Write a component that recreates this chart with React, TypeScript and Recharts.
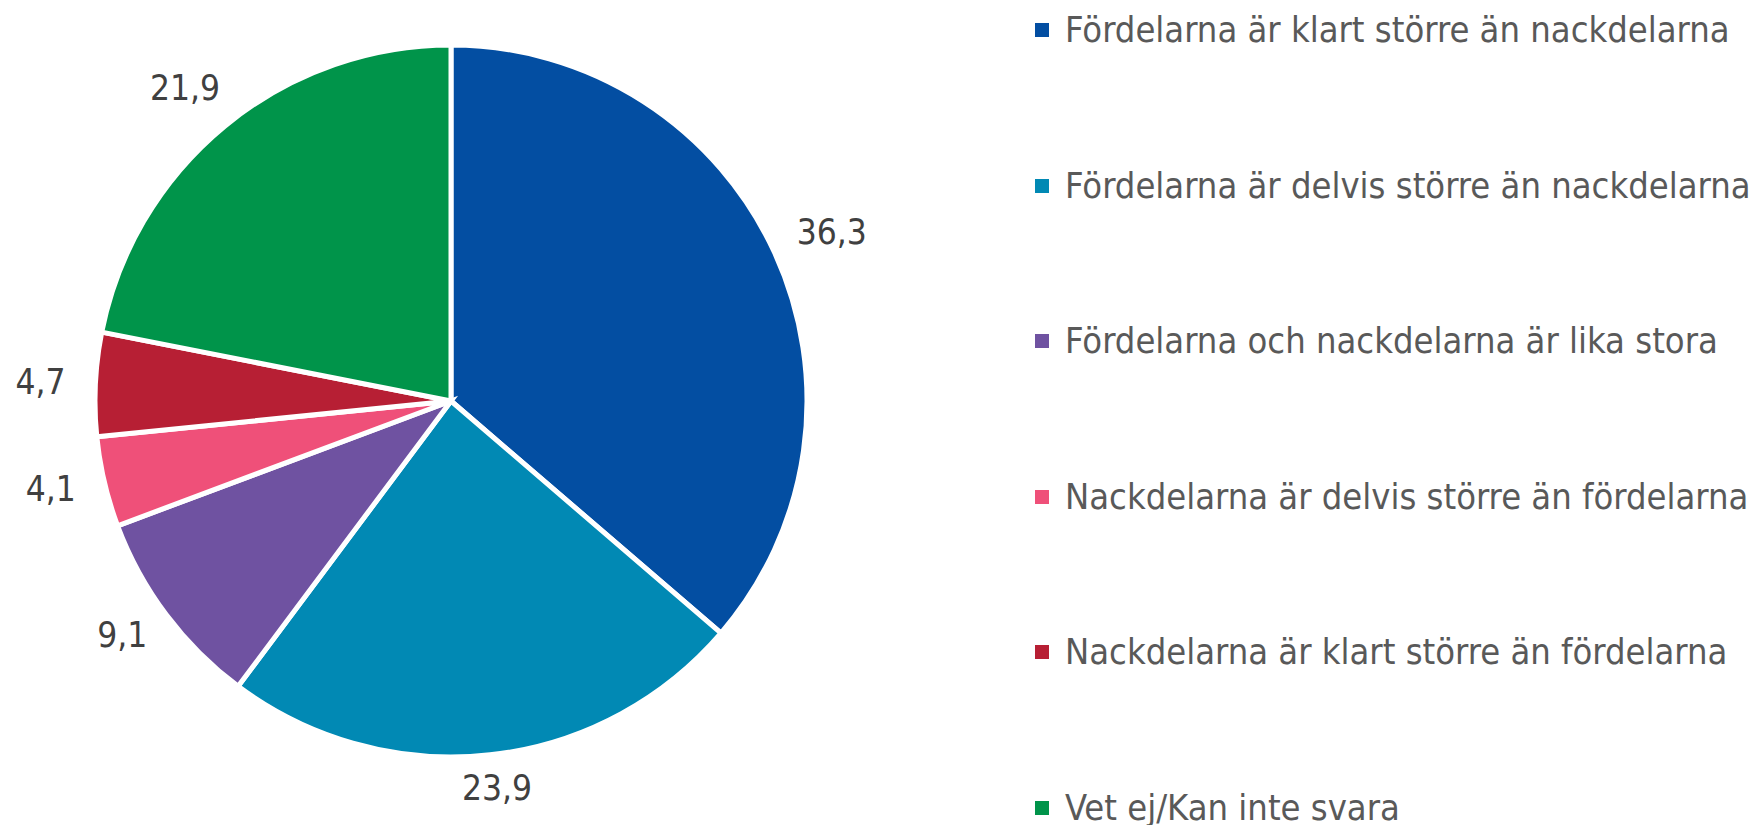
import { PieChart, Pie, Cell, Legend } from 'recharts'

const categories = [
  'Fördelarna är klart större än nackdelarna',
  'Fördelarna är delvis större än nackdelarna',
  'Fördelarna och nackdelarna är lika stora',
  'Nackdelarna är delvis större än fördelarna',
  'Nackdelarna är klart större än fördelarna',
  'Vet ej/Kan inte svara',
]
const shares = [36.3, 23.9, 9.1, 4.1, 4.7, 21.9]
const sliceColors = ['#034EA2', '#0189B4', '#6F52A1', '#EF5079', '#B71F34', '#00944A']

const FONT = '"Liberation Sans Narrow", "DejaVu Sans Condensed", "Noto Sans", sans-serif'
const RADIAN = Math.PI / 180

const data = categories.map((name, i) => ({ name, value: shares[i] }))

// value labels sit outside the slice, pushed out by half the text box
const renderLabel = (props: any) => {
  const { cx, cy, midAngle, outerRadius, value } = props
  const cos = Math.cos(-midAngle * RADIAN)
  const sin = Math.sin(-midAngle * RADIAN)
  const text = String(value).replace('.', ',')
  const w = text.length * 16
  const h = sin < 0 ? 36 : 4
  const r = outerRadius + 31
  const x = cx + r * cos + (w / 2) * cos
  const y = cy + r * sin + (h / 2) * sin
  return (
    <text
      x={x}
      y={y}
      fill="#404040"
      fontSize={35}
      fontFamily={FONT}
      textAnchor="middle"
      dominantBaseline="central"
    >
      {text}
    </text>
  )
}

const renderLegend = () => (
  <div style={{ fontFamily: FONT, fontSize: 36, color: '#595959', paddingTop: 9 }}>
    {categories.map((name, i) => (
      <div key={name} style={{ height: 155.5, display: 'flex', alignItems: 'flex-start' }}>
        <div style={{ display: 'flex', alignItems: 'center', height: 42 }}>
          <span
            style={{
              display: 'inline-block',
              width: 14,
              height: 14,
              background: sliceColors[i],
              marginRight: 16,
            }}
          />
          <span style={{ whiteSpace: 'nowrap', lineHeight: '42px' }}>{name}</span>
        </div>
      </div>
    ))}
  </div>
)

export default function App() {
  return (
    <div style={{ position: 'absolute', left: 0, top: 0, background: '#fff' }}>
      <PieChart width={1760} height={825} margin={{ top: 0, right: 0, bottom: 0, left: 0 }}>
        <Pie
          data={data}
          dataKey="value"
          nameKey="name"
          cx={451}
          cy={401}
          outerRadius={356}
          startAngle={90}
          endAngle={-270}
          stroke="#ffffff"
          strokeWidth={5}
          label={renderLabel}
          labelLine={false}
          isAnimationActive={false}
        >
          {data.map((d, i) => (
            <Cell key={d.name} fill={sliceColors[i]} />
          ))}
        </Pie>
        <Legend
          content={renderLegend}
          wrapperStyle={{ position: 'absolute', left: 1035, top: 0, width: 725 }}
        />
      </PieChart>
    </div>
  )
}
